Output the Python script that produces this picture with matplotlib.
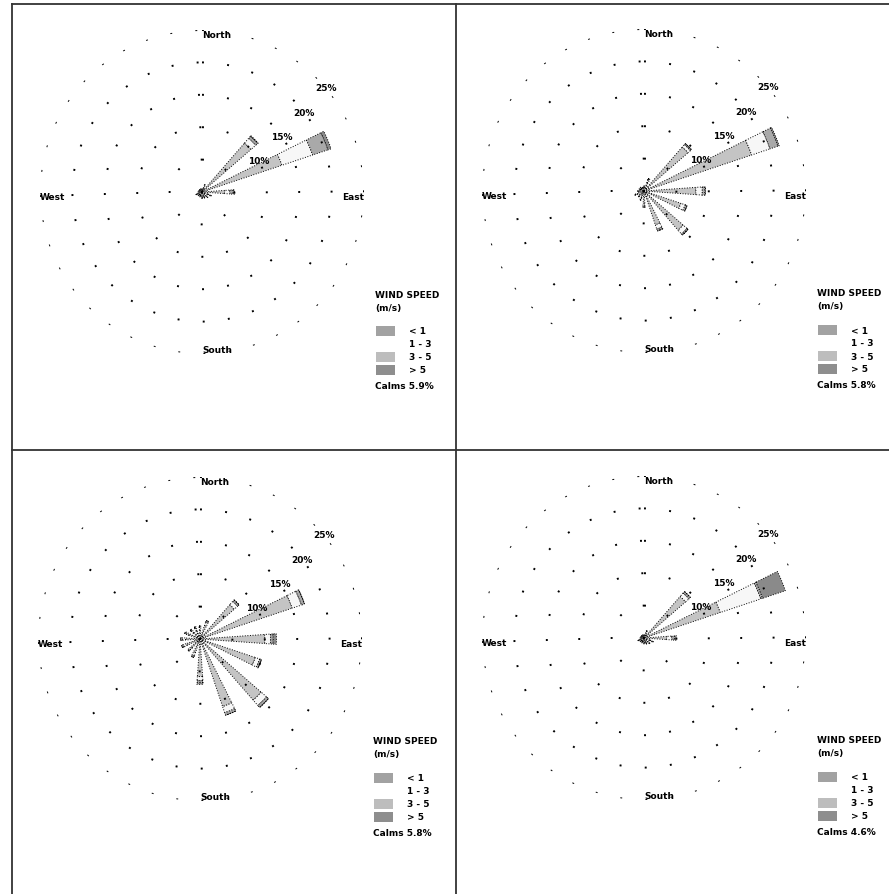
import numpy as np
import matplotlib
matplotlib.use("Agg")
import matplotlib.pyplot as plt
from matplotlib.patches import Rectangle
from matplotlib.lines import Line2D

# 16 compass directions, clockwise from North
directions = ["N", "NNE", "NE", "ENE", "E", "ESE", "SE", "SSE",
              "S", "SSW", "SW", "WSW", "W", "WNW", "NW", "NNW"]
bearings = np.arange(16) * 22.5

speed_classes = ["< 1", "1 - 3", "3 - 5", "> 5"]
class_colors = ["#c4c4c4", "#f7f7f7", "#a9a9a9", "#8a8a8a"]
legend_colors = ["#a2a2a2", "#ffffff", "#bdbdbd", "#8e8e8e"]

ring_values = [5, 10, 15, 20, 25]
ring_labels = ["10%", "15%", "20%", "25%"]   # on rings 2..5
compass_labels = ["North", "East", "South", "West"]
calms = ["Calms 5.9%", "Calms 5.8%", "Calms 5.8%", "Calms 4.6%"]

# frequency (%) per direction, one list per speed class
p1_c1 = [0.3, 0.7, 10.0, 13.0, 3.5, 1.0, 0.8, 0.7, 0.7, 0.5, 0.5, 0.7, 0.4, 0.3, 0.3, 0.3]
p1_c2 = [0.1, 0.3, 1.0, 5.0, 0.8, 0.3, 0.2, 0.2, 0.2, 0.2, 0.2, 0.2, 0.1, 0.1, 0.1, 0.1]
p1_c3 = [0.1, 0.2, 0.4, 2.5, 0.5, 0.2, 0.2, 0.1, 0.1, 0.1, 0.1, 0.1, 0.1, 0.1, 0.1, 0.1]
p1_c4 = [0.0, 0.0, 0.1, 0.5, 0.2, 0.0, 0.0, 0.0, 0.0, 0.0, 0.0, 0.0, 0.0, 0.0, 0.0, 0.0]

p2_c1 = [0.5, 1.4, 9.0, 17.5, 8.0, 6.0, 8.0, 5.5, 2.0, 1.1, 0.9, 1.1, 0.7, 0.5, 0.5, 0.4]
p2_c2 = [0.2, 0.4, 0.5, 3.0, 1.0, 0.7, 0.8, 0.7, 0.3, 0.3, 0.2, 0.3, 0.2, 0.2, 0.2, 0.1]
p2_c3 = [0.1, 0.2, 0.2, 1.3, 0.4, 0.3, 0.2, 0.3, 0.2, 0.1, 0.1, 0.1, 0.1, 0.1, 0.1, 0.1]
p2_c4 = [0.0, 0.0, 0.0, 0.2, 0.1, 0.0, 0.0, 0.0, 0.0, 0.0, 0.0, 0.0, 0.0, 0.0, 0.0, 0.0]

p3_c1 = [1.4, 2.2, 7.0, 15.0, 10.0, 9.0, 12.5, 11.0, 5.8, 2.2, 1.8, 2.2, 2.2, 1.8, 1.4, 1.4]
p3_c2 = [0.4, 0.5, 0.7, 1.5, 0.9, 0.7, 1.1, 1.0, 0.6, 0.5, 0.4, 0.5, 0.5, 0.4, 0.4, 0.4]
p3_c3 = [0.2, 0.3, 0.3, 0.5, 0.4, 0.3, 0.4, 0.4, 0.3, 0.3, 0.3, 0.3, 0.3, 0.3, 0.2, 0.2]
p3_c4 = [0.0, 0.0, 0.0, 0.0, 0.5, 0.0, 0.0, 0.0, 0.3, 0.0, 0.0, 0.0, 0.0, 0.0, 0.0, 0.0]

p4_c1 = [0.3, 0.8, 8.5, 12.4, 3.5, 1.0, 0.8, 0.7, 0.6, 0.5, 0.5, 0.7, 0.4, 0.3, 0.3, 0.3]
p4_c2 = [0.1, 0.3, 0.7, 6.6, 0.8, 0.3, 0.3, 0.2, 0.2, 0.2, 0.2, 0.2, 0.1, 0.1, 0.1, 0.1]
p4_c3 = [0.1, 0.1, 0.3, 0.3, 0.4, 0.2, 0.1, 0.1, 0.1, 0.1, 0.1, 0.1, 0.1, 0.1, 0.1, 0.1]
p4_c4 = [0.0, 0.0, 0.0, 3.7, 0.3, 0.0, 0.0, 0.0, 0.0, 0.0, 0.0, 0.0, 0.0, 0.0, 0.0, 0.0]

panels = [
    [p1_c1, p1_c2, p1_c3, p1_c4],
    [p2_c1, p2_c2, p2_c3, p2_c4],
    [p3_c1, p3_c2, p3_c3, p3_c4],
    [p4_c1, p4_c2, p4_c3, p4_c4],
]

W, H = 889, 895
fig = plt.figure(figsize=(W / 100, H / 100), dpi=100)
fig.patch.set_facecolor("white")

def fx(x):
    return x / W

def fy(y):
    return 1 - y / H

# panel frame lines
for (x0, y0, x1, y1) in [(12, 5, 889, 5), (12, 5, 12, 895),
                         (456, 5, 456, 895), (12, 451, 889, 451)]:
    fig.add_artist(Line2D([fx(x0), fx(x1)], [fy(y0), fy(y1)],
                          color="#333333", lw=1.3))

centers = [(202, 193), (644, 192), (200, 640), (644, 639)]
R = 162
theta = np.deg2rad(bearings)
width = np.deg2rad(8)
txt = dict(fontsize=6.5, fontweight="bold", color="black")

for i, (cx, cy) in enumerate(centers):
    ax = fig.add_axes([fx(cx - R), fy(cy + R), 2 * R / W, 2 * R / H],
                      projection="polar")
    ax.set_theta_zero_location("N")
    ax.set_theta_direction(-1)
    ax.set_rlim(0, 25)
    ax.grid(False)
    ax.set_xticks([])
    ax.set_yticks([])
    ax.spines["polar"].set_visible(False)
    ax.patch.set_alpha(0)

    t = np.linspace(0, 2 * np.pi, 500)
    for r in ring_values:
        ax.plot(t, np.full_like(t, r), color="black", lw=1.4,
                linestyle=(0, (1, 12)))

    bottom = np.zeros(16)
    for vals, col in zip(panels[i], class_colors):
        vals = np.array(vals)
        ax.bar(theta, vals, width=width, bottom=bottom, color=col,
               edgecolor="black", linewidth=0.7, linestyle=":")
        bottom += vals

    for r, lab, b in zip(ring_values[1:], ring_labels, [61, 55, 52, 50]):
        ax.text(np.deg2rad(b), r, lab, ha="center", va="center", **txt)

    ax.text(0, 25, compass_labels[0], ha="left", va="top", **txt)
    ax.text(np.pi / 2, 25, compass_labels[1], ha="right", va="top", **txt)
    ax.text(np.pi, 25, compass_labels[2], ha="left", va="bottom", **txt)
    ax.text(3 * np.pi / 2, 25, compass_labels[3], ha="left", va="top", **txt)

    # legend block
    lx = cx + 173
    fig.text(fx(lx), fy(cy + 102), "WIND SPEED", ha="left", va="center", **txt)
    fig.text(fx(lx), fy(cy + 115), "(m/s)", ha="left", va="center", **txt)
    for k, (lab, col) in enumerate(zip(speed_classes, legend_colors)):
        yy = cy + 139 + k * 13
        fig.add_artist(Rectangle((fx(lx + 1), fy(yy + 5)), 19 / W, 10 / H,
                                 facecolor=col, edgecolor="none",
                                 transform=fig.transFigure))
        fig.text(fx(lx + 34), fy(yy), lab, ha="left", va="center", **txt)
    fig.text(fx(lx), fy(cy + 194), calms[i], ha="left", va="center", **txt)

fig.savefig("out.png", dpi=100, facecolor="white")
